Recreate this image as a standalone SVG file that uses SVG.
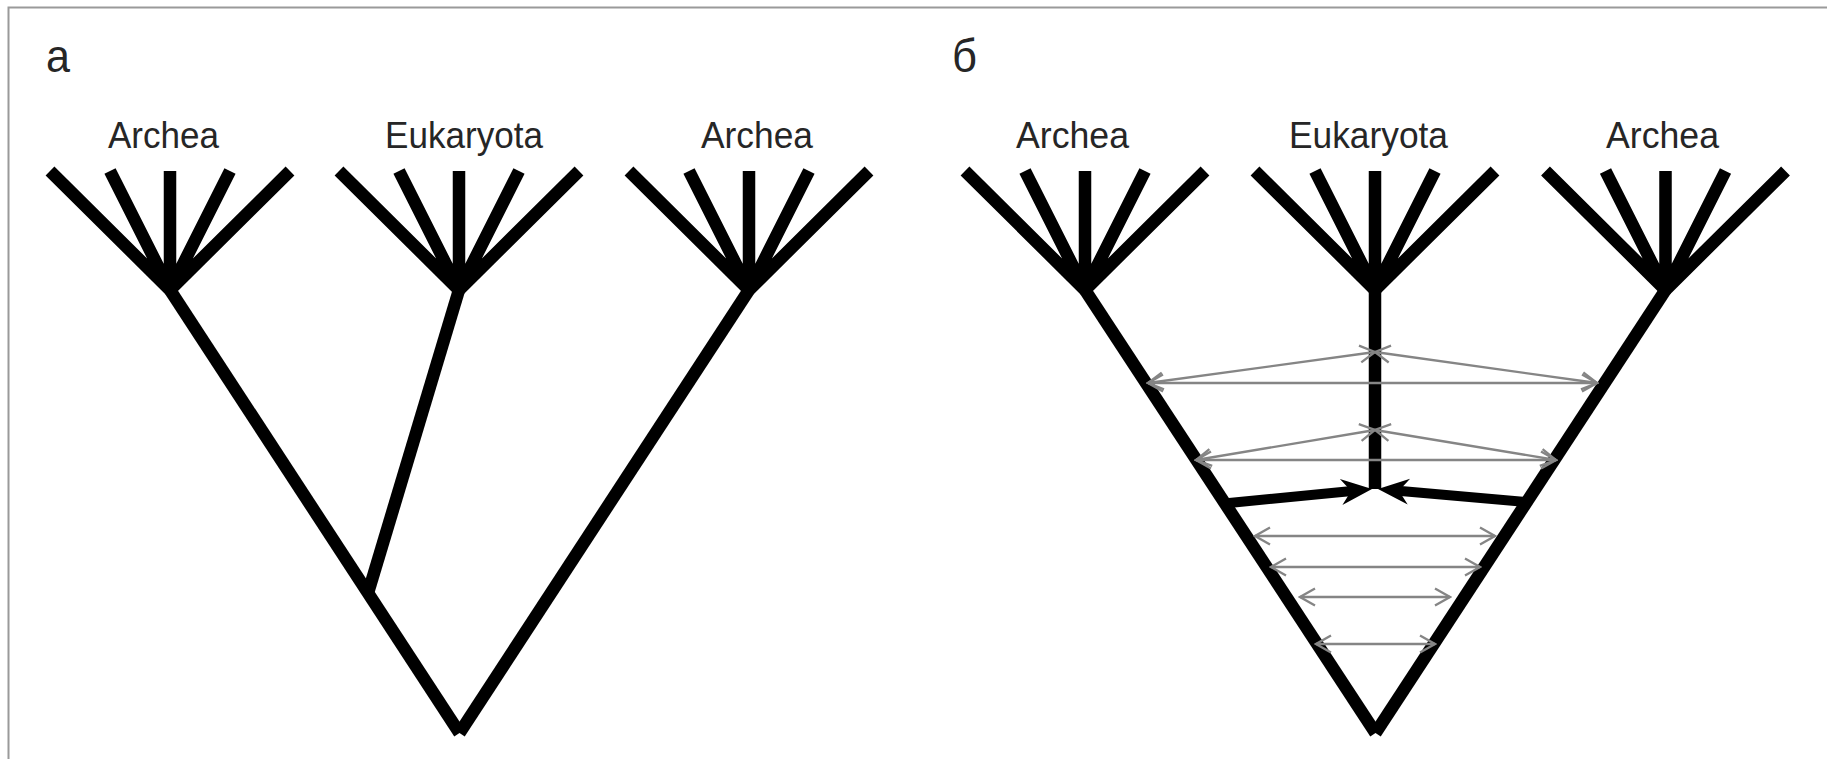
<svg xmlns="http://www.w3.org/2000/svg" width="1831" height="759" viewBox="0 0 1831 759">
  <style>
    .frame { stroke: #9a9a9a; stroke-width: 2; fill: none; }
    .branch { stroke: #000; stroke-width: 12.5; stroke-linecap: butt; fill: none; }
    .shaft { stroke: #000; stroke-width: 10; stroke-linecap: butt; fill: none; }
    .head { fill: #000; stroke: none; }
    .flow { stroke: #858585; stroke-width: 2.3; fill: none; marker-start: url(#chev); marker-end: url(#chev); }
    .name { font-family: "Liberation Sans Narrow", "Liberation Sans", Arial, sans-serif; font-size: 36px; fill: #262626; }
    .panel { font-family: "Liberation Sans Narrow", "Liberation Sans", Arial, sans-serif; font-size: 46px; fill: #262626; }
  </style>
  <defs>
    <!-- open chevron head for the thin grey double arrows -->
    <marker id="chev" viewBox="-17 -10 19 20" refX="0" refY="0" markerWidth="19" markerHeight="20" markerUnits="userSpaceOnUse" orient="auto-start-reverse">
      <path d="M-15,-8.5 L0,0 L-15,8.5" fill="none" stroke="#858585" stroke-width="2.3"/>
    </marker>
  </defs>

  <rect width="1831" height="759" fill="#fff"/>

  <!-- frame: top and left rules only -->
  <path class="frame" d="M8.5,759 L8.5,7.5 L1827,7.5"/>

  <!-- ===== panel a ===== -->
  <g id="panel-a">
    <text class="panel" x="46" y="72" textLength="24" lengthAdjust="spacingAndGlyphs">а</text>

    <g id="a-archea-left">
      <text class="name" x="108" y="148" textLength="111" lengthAdjust="spacingAndGlyphs">Archea</text>
      <path class="branch" d="M50,171 L170,290 M110,171 L170,290 M170,171 L170,290 M230,171 L170,290 M290,171 L170,290"/>
      <circle cx="170" cy="289" r="6.5"/>
    </g>

    <g id="a-eukaryota">
      <text class="name" x="385" y="148" textLength="158" lengthAdjust="spacingAndGlyphs">Eukaryota</text>
      <path class="branch" d="M339,171 L459,290 M399,171 L459,290 M459,171 L459,290 M519,171 L459,290 M579,171 L459,290"/>
      <circle cx="459" cy="289" r="6.5"/>
    </g>

    <g id="a-archea-right">
      <text class="name" x="701" y="148" textLength="112" lengthAdjust="spacingAndGlyphs">Archea</text>
      <path class="branch" d="M629,171 L749,290 M689,171 L749,290 M749,171 L749,290 M809,171 L749,290 M869,171 L749,290"/>
      <circle cx="749" cy="289" r="6.5"/>
    </g>

    <g id="a-connectors">
      <line class="branch" x1="170" y1="290" x2="459.5" y2="733"/>
      <line class="branch" x1="749" y1="290" x2="459.5" y2="733"/>
      <line class="branch" x1="459" y1="290" x2="368" y2="593"/>
    </g>
  </g>

  <!-- ===== panel b ===== -->
  <g id="panel-b">
    <text class="panel" x="952" y="72" textLength="25" lengthAdjust="spacingAndGlyphs">б</text>

    <g id="b-archea-left">
      <text class="name" x="1016" y="148" textLength="113" lengthAdjust="spacingAndGlyphs">Archea</text>
      <path class="branch" d="M965,171 L1085,290 M1025,171 L1085,290 M1085,171 L1085,290 M1145,171 L1085,290 M1205,171 L1085,290"/>
      <circle cx="1085" cy="289" r="6.5"/>
    </g>

    <g id="b-eukaryota">
      <text class="name" x="1289" y="148" textLength="159" lengthAdjust="spacingAndGlyphs">Eukaryota</text>
      <path class="branch" d="M1255,171 L1375,290 M1315,171 L1375,290 M1375,171 L1375,290 M1435,171 L1375,290 M1495,171 L1375,290"/>
      <circle cx="1375" cy="289" r="6.5"/>
    </g>

    <g id="b-archea-right">
      <text class="name" x="1606" y="148" textLength="113" lengthAdjust="spacingAndGlyphs">Archea</text>
      <path class="branch" d="M1545.5,171 L1665.5,290 M1605.5,171 L1665.5,290 M1665.5,171 L1665.5,290 M1725.5,171 L1665.5,290 M1785.5,171 L1665.5,290"/>
      <circle cx="1665.5" cy="289" r="6.5"/>
    </g>

    <g id="b-connectors">
      <!-- outer lineages -->
      <line class="branch" x1="1085" y1="290" x2="1375.5" y2="733"/>
      <line class="branch" x1="1665.5" y1="290" x2="1375.5" y2="733"/>
      <!-- eukaryote stem -->
      <line class="branch" x1="1375" y1="290" x2="1375" y2="489"/>

      <!-- fusion arrows into the stem -->
      <line class="shaft" x1="1224" y1="503.5" x2="1352" y2="491"/>
      <polygon class="head" points="1372,489 1339.9,479 1351.1,491 1342.4,505"/>
      <line class="shaft" x1="1527" y1="502" x2="1398" y2="490.8"/>
      <polygon class="head" points="1378,489 1410.1,478.7 1398.9,490.8 1407.7,504.6"/>

      <!-- gene exchange between lineages -->
      <line class="flow" x1="1148" y1="383" x2="1597" y2="383"/>
      <line class="flow" x1="1375" y1="352" x2="1148" y2="383"/>
      <line class="flow" x1="1375" y1="352" x2="1597" y2="383"/>
      <line class="flow" x1="1196" y1="460" x2="1556" y2="460"/>
      <line class="flow" x1="1375" y1="430" x2="1196" y2="460"/>
      <line class="flow" x1="1375" y1="430" x2="1556" y2="460"/>
      <line class="flow" x1="1255" y1="536" x2="1495" y2="536"/>
      <line class="flow" x1="1271" y1="567" x2="1480" y2="567"/>
      <line class="flow" x1="1300" y1="597" x2="1450" y2="597"/>
      <line class="flow" x1="1316" y1="644" x2="1435" y2="644"/>
    </g>
  </g>
</svg>
